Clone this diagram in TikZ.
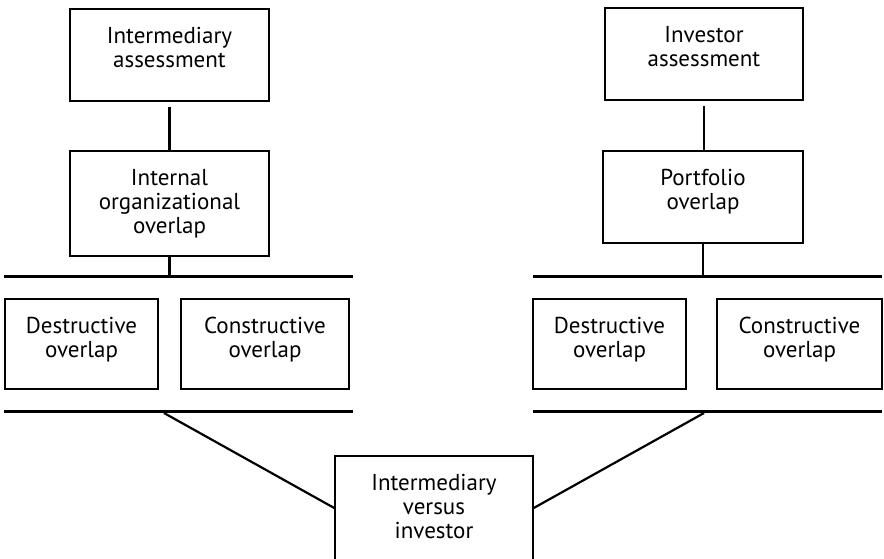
\documentclass[tikz,border=0pt]{standalone}
\usepackage{fontspec}
\setmainfont{PT Sans}
\usetikzlibrary{calc}
% box body: fixed width and height, text hung from the top edge
\newcommand\boxlabel[3]{\parbox[c][#2][t]{#1}{\centering\rule{0pt}{34pt}#3}}

\begin{document}
\begin{tikzpicture}[x=1pt,y=-1pt,
  stepbox/.style={draw, line width=1.5pt, inner sep=0pt,
    font=\fontsize{23}{24}\selectfont},
  bar/.style={line width=3pt},
  link/.style={line width=2.6pt},
  slant/.style={line width=2.2pt}]
\useasboundingbox (0,0) rectangle (884,558);
\clip (0,0) rectangle (884,558);

% left column
\node[stepbox] (A) at (169.5,55)  {\boxlabel{199pt}{92pt}{Intermediary\\assessment}};
\node[stepbox] (B) at (169.5,203.5) {\boxlabel{199pt}{105pt}{Internal\\organizational\\overlap}};
\node[stepbox] (C) at (81.5,344)  {\boxlabel{153pt}{90pt}{Destructive\\overlap}};
\node[stepbox] (D) at (265,344)   {\boxlabel{168pt}{90pt}{Constructive\\overlap}};

% right column
\node[stepbox] (E) at (704,54)    {\boxlabel{198pt}{92pt}{Investor\\assessment}};
\node[stepbox] (F) at (703,197)   {\boxlabel{200pt}{92pt}{Portfolio\\overlap}};
\node[stepbox] (G) at (609.5,344) {\boxlabel{153pt}{90pt}{Destructive\\overlap}};
\node[stepbox] (H) at (799.5,344) {\boxlabel{165pt}{90pt}{Constructive\\overlap}};

% joint box at the bottom
\node[stepbox] (I) at (434,508)   {\boxlabel{198pt}{104pt}{Intermediary\\versus\\investor}};

% bracket bars
\coordinate (barLtW) at (4,276);   \coordinate (barLtE) at (353,276);
\coordinate (barLbW) at (4,411);   \coordinate (barLbE) at (353,411);
\coordinate (barRtW) at (533,276); \coordinate (barRtE) at (882,276);
\coordinate (barRbW) at (533,411); \coordinate (barRbE) at (882,411);
\draw[bar] (barLtW) -- (barLtE);
\draw[bar] (barLbW) -- (barLbE);
\draw[bar] (barRtW) -- (barRtE);
\draw[bar] (barRbW) -- (barRbE);

% vertical links
\draw[link, shorten <=5pt] (A.south) -- (B.north);
\draw[link] (B.south) -- (B.south |- barLtW);
\draw[link, shorten <=5pt] (E.south) -- (E.south |- F.north);
\draw[link] (F.south) -- (F.south |- barRtW);

% slanted links to the joint box
\coordinate (slantL) at (164,413);
\coordinate (slantR) at (704,413);
\draw[slant] (slantL) -- (I.west);
\draw[slant] (I.east) -- (slantR);
\end{tikzpicture}
\end{document}
